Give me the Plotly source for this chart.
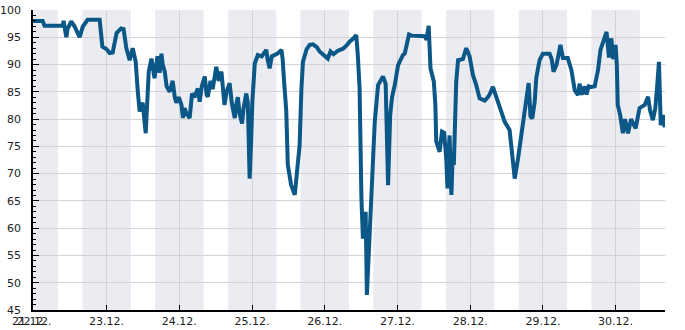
import pandas as pd
import plotly.graph_objects as go

# hours since 22.12. 00:00
hours = [-0.4, 2.9, 3.5, 9.5, 9.8, 10.7, 11.1, 12.3, 13.4, 15.1, 16.1, 17.7, 21.7, 22.6, 24.0, 25.0, 26.0,
         27.3, 28.8, 29.6, 30.5, 31.6, 32.6, 33.6, 34.3, 34.9, 35.9, 36.5, 36.9, 37.4, 37.9, 38.8, 39.2,
         39.8, 40.8, 41.5, 42.1, 42.5, 43.2, 43.8, 44.8, 45.8, 46.5, 47.0, 47.8, 48.7, 49.2, 49.7, 50.4,
         51.4, 52.2, 53.0, 54.1, 54.7, 55.4, 56.4, 57.0, 57.4, 58.3, 59.0, 60.2, 61.0, 61.9, 62.3, 62.9,
         63.6, 64.6, 65.3, 66.3, 66.9, 67.3, 67.9, 68.7, 69.2, 70.1, 70.6, 71.2, 71.7, 72.1, 72.9, 73.9,
         75.2, 76.7, 77.1, 77.8, 78.5, 79.5, 80.4, 81.7, 82.1, 82.5, 83.3, 83.8, 84.9, 86.1, 87.0, 87.7,
         88.3, 88.8, 90.0, 91.0, 92.1, 93.4, 94.3, 95.7, 97.0, 97.9, 98.9, 100.2, 102.0, 103.2, 104.2,
         105.5, 106.4, 106.9, 107.5, 108.1, 108.6, 109.2, 109.5, 109.9, 110.8, 111.9, 112.5, 113.6, 115.2,
         116.1, 116.9, 117.6, 118.2, 119.1, 120.2, 121.8, 122.4, 123.8, 124.7, 129.0, 129.6, 130.3, 130.9,
         132.0, 132.5, 132.8, 133.9, 134.7, 135.4, 136.1, 136.5, 136.9, 137.2, 137.8, 138.2, 138.6, 139.1,
         139.4, 140.0, 141.6, 142.7, 143.8, 144.9, 146.0, 147.1, 148.1, 148.8, 149.8, 150.4, 151.5, 152.6,
         153.7, 154.7, 155.4, 157.0, 157.8, 158.7, 159.8, 160.7, 161.4, 162.5, 163.3, 163.9, 164.5, 165.3,
         165.8, 166.9, 168.0, 170.2, 170.9, 171.5, 172.5, 173.8, 174.6, 176.2, 177.4, 178.5, 179.6, 180.1,
         180.8, 181.8, 182.4, 183.1, 184.0, 185.1, 186.2, 187.0, 188.1, 189.0, 189.8, 190.6, 191.2, 192.0,
         192.4, 192.7, 193.5, 194.4, 195.1, 196.1, 197.1, 198.6, 199.9, 201.6, 202.7, 203.4, 204.3, 205.1,
         205.7, 206.3, 206.9, 207.6, 208.2]
humidity = [98.0, 98.0, 97.1, 97.1, 98.0, 95.0, 96.5, 97.9, 97.0, 95.0, 96.9, 98.2, 98.2, 93.3, 92.8, 92.1, 92.2,
            95.8, 96.6, 96.5, 93.0, 90.8, 93.0, 90.5, 85.0, 81.4, 83.0, 78.9, 77.4, 83.0, 88.7, 91.1, 89.0,
            87.5, 91.5, 88.5, 92.0, 90.0, 88.7, 86.0, 85.0, 87.0, 84.0, 83.0, 84.0, 82.6, 80.2, 82.0, 81.0,
            80.2, 84.7, 84.0, 85.6, 83.2, 86.0, 87.8, 84.5, 84.1, 87.0, 85.5, 89.6, 87.0, 88.7, 86.0, 82.6,
            85.0, 86.6, 83.0, 80.2, 83.0, 84.0, 81.0, 79.2, 82.0, 84.7, 83.0, 69.1, 75.9, 83.2, 90.2, 91.75,
            91.5, 92.7, 91.0, 89.3, 91.5, 91.8, 92.0, 92.7, 91.0, 87.5, 81.4, 71.6, 67.9, 66.1, 71.6, 75.25,
            85.6, 90.5, 92.8, 93.6, 93.7, 93.2, 92.4, 91.8, 91.1, 92.4, 91.9, 92.5, 92.9, 93.5, 94.2,
            94.8, 95.4, 91.75, 85.6, 65.5, 58.1, 62.0, 63.0, 47.75, 58.75, 69.1, 79.5, 86.25, 87.8,
            86.5, 67.9, 80.75, 84.0, 86.25, 89.9, 91.75, 92.0, 95.5, 95.3, 95.2, 94.5, 97.1, 89.3,
            86.9, 82.6, 75.9, 74.0, 77.7, 77.5, 72.8, 67.3, 74.0, 77.0, 66.1, 73.0, 71.6, 79.5,
            86.9, 90.8, 91.0, 93.0, 91.5, 88.1, 86.25, 83.8, 83.5, 83.4, 84.0, 84.5, 85.9, 84.1,
            82.6, 81.0, 79.5, 78.0, 74.0, 69.1, 72.8, 76.5, 78.3, 82.6, 86.6, 80.5, 80.1, 83.2,
            87.5, 90.8, 92.0, 92.0, 91.0, 88.7, 90.0, 93.6, 91.2, 91.2, 89.0, 85.3, 84.4, 86.5,
            84.5, 86.0, 84.5, 86.0, 85.9, 86.0, 89.0, 92.7, 94.8, 96.0, 91.3, 94.8, 91.0, 93.6,
            89.9, 82.6, 80.75, 77.4, 80.0, 77.4, 80.0, 78.3, 82.0, 82.6, 84.1, 81.5, 79.8, 82.0,
            85.9, 90.5, 78.9, 80.75, 78.5]

day_ticks = list(range(22, 31))
tick_labels = [f"{d}.12." for d in day_ticks]
y_ticks = [45, 50, 55, 60, 65, 70, 75, 80, 85, 90, 95, 100]

base = pd.Timestamp("2016-12-22 00:00")
times = [base + pd.Timedelta(hours=h) for h in hours]
tick_times = [pd.Timestamp(f"2016-12-{d} 00:00") for d in day_ticks]

fig = go.Figure()
fig.add_trace(go.Scatter(x=times, y=humidity, mode="lines",
                         line=dict(color="#0b5787", width=4), hoverinfo="skip"))

# night bands 16:00-08:00
shapes = [dict(type="rect", xref="x", yref="paper", x0=base + pd.Timedelta(hours=-0.4),
               x1=base + pd.Timedelta(hours=8), y0=0, y1=1, fillcolor="#ebecf1",
               line_width=0, layer="below")]
for d in range(22, 30):
    shapes.append(dict(type="rect", xref="x", yref="paper",
                       x0=pd.Timestamp(f"2016-12-{d} 16:00"), x1=pd.Timestamp(f"2016-12-{d+1} 08:00"),
                       y0=0, y1=1, fillcolor="#ebecf1", line_width=0, layer="below"))

fig.update_layout(
    width=685, height=330,
    margin=dict(l=33, r=20, t=10, b=20),
    plot_bgcolor="white", paper_bgcolor="white",
    showlegend=False, shapes=shapes,
    font=dict(family="DejaVu Sans", size=11, color="#222"),
    xaxis=dict(type="date", range=[base + pd.Timedelta(hours=-0.3), base + pd.Timedelta(hours=208.3)],
               tickvals=tick_times, ticktext=tick_labels, showgrid=True, gridcolor="#d3d3d6",
               gridwidth=1, ticks="inside", ticklen=5, tickcolor="black", showline=True,
               linecolor="black", linewidth=1.5, zeroline=False, automargin=False),
    yaxis=dict(range=[45, 100], tickvals=y_ticks, showgrid=True, gridcolor="#d3d3d6", gridwidth=1,
               ticks="inside", ticklen=6, tickcolor="black", showline=True, linecolor="black",
               linewidth=1.5, zeroline=False, automargin=False, ticklabelstandoff=8,
               minor=dict(dtick=1, ticks="inside", ticklen=3, tickcolor="black", showgrid=False)),
)
fig.add_annotation(x=base, y=0, xref="x", yref="paper", yanchor="top", yshift=-3, xshift=-4,
                   text="21.12.", showarrow=False, font=dict(family="DejaVu Sans", size=11, color="#222"))
fig.write_html("out.html")
